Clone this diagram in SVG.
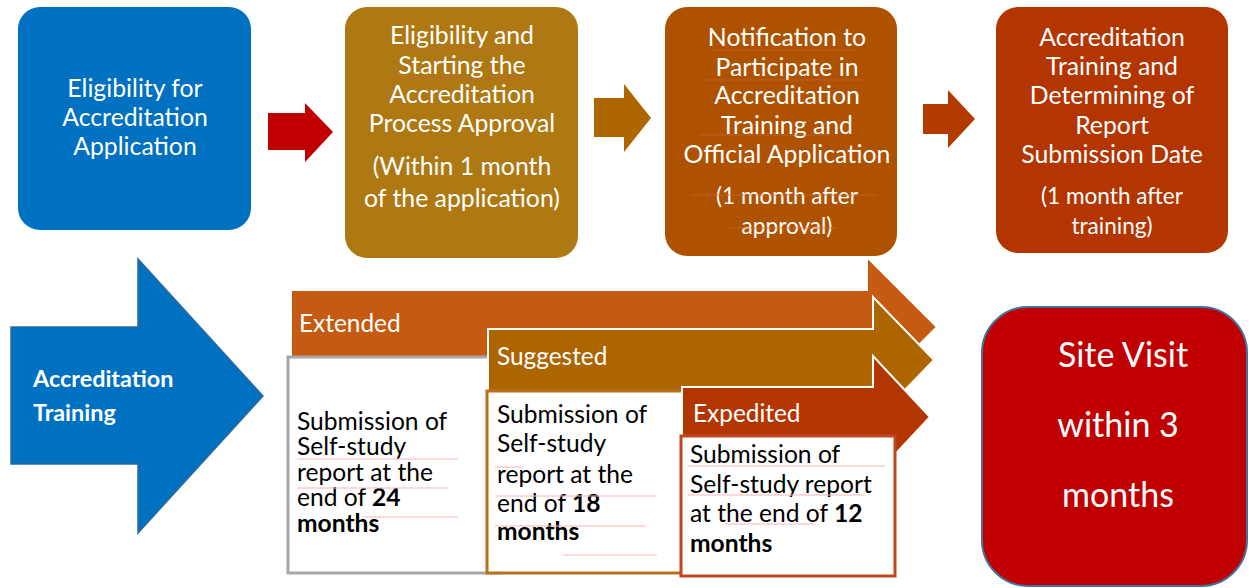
<svg xmlns="http://www.w3.org/2000/svg" width="1249" height="588" viewBox="0 0 1249 588">
  <style>
    text { font-family: Lato, "Open Sans", sans-serif; }
    .wt { fill: #ffffff; font-size: 24.8px; text-anchor: middle; }
    .ws { fill: #ffffff; font-size: 22.6px; text-anchor: middle; }
    .lbl { fill: #ffffff; font-size: 24.4px; }
    .body { fill: #000000; font-size: 24.6px; }
    .b { font-weight: bold; }
    .mark { stroke-width: 1; fill: none; }
    .pink { stroke: #f4b6b6; }
    .tone { stroke: #c8643c; opacity: 0.7; }
    .band { stroke: #ffffff; stroke-width: 2; }
    .sv { fill: #ffffff; font-size: 34px; text-anchor: middle; }
  </style>

  <rect width="1249" height="588" fill="#ffffff"/>

  <!-- timeline tracks: extended / suggested / expedited -->
  <g id="track-extended">
    <polygon class="band" fill="#c55a11" points="291,290 867,290 867,257 937,327 867,397 867,364 291,364"/>
    <rect x="288" y="357" width="210" height="216" fill="#ffffff" stroke="#a6a6a6" stroke-width="3"/>
    <text class="lbl" x="299" y="332">Extended</text>
    <text class="body" x="297" y="430">Submission of</text>
    <text class="body" x="297" y="455">Self-study</text>
    <text class="body" x="297" y="481">report at the</text>
    <text class="body" x="297" y="506">end of <tspan class="b">24</tspan></text>
    <text class="body b" x="297" y="532">months</text>
  </g>

  <g id="track-suggested">
    <polygon class="band" fill="#ad6500" points="488,329 873,329 873,297 934,360 873,423 873,391 488,391"/>
    <rect x="487" y="391" width="210" height="182" fill="#ffffff" stroke="#b8701e" stroke-width="3"/>
    <text class="lbl" x="497" y="365">Suggested</text>
    <text class="body" x="497" y="423">Submission of</text>
    <text class="body" x="497" y="452">Self-study</text>
    <text class="body" x="497" y="483">report at the</text>
    <text class="body" x="497" y="512">end of <tspan class="b">18</tspan></text>
    <text class="body b" x="497" y="540">months</text>
  </g>

  <g id="track-expedited">
    <polygon class="band" fill="#b33600" points="682,387 873,387 873,356 930,417 873,478 873,447 682,447"/>
    <rect x="681" y="436" width="214" height="140" fill="#ffffff" stroke="#c0461e" stroke-width="3"/>
    <text class="lbl" x="693" y="422">Expedited</text>
    <text class="body" x="690" y="463">Submission of</text>
    <text class="body" x="690" y="493">Self-study report</text>
    <text class="body" x="690" y="522">at the end of <tspan class="b">12</tspan></text>
    <text class="body b" x="690" y="552">months</text>
  </g>

  <!-- process steps -->
  <g id="step-eligibility">
    <rect x="18" y="7" width="233" height="223" rx="22" fill="#0070c0"/>
    <text class="wt" x="135" y="97">Eligibility for</text>
    <text class="wt" x="135" y="126">Accreditation</text>
    <text class="wt" x="135" y="155">Application</text>
  </g>

  <g id="step-approval">
    <rect x="345" y="7" width="233" height="251" rx="22" fill="#ae7812"/>
    <text class="wt" x="462" y="44">Eligibility and</text>
    <text class="wt" x="462" y="74">Starting the</text>
    <text class="wt" x="462" y="103">Accreditation</text>
    <text class="wt" x="462" y="132">Process Approval</text>
    <text class="wt" x="462" y="175">(Within 1 month</text>
    <text class="wt" x="462" y="207">of the application)</text>
  </g>

  <g id="step-notification">
    <rect x="665" y="7" width="232" height="249" rx="22" fill="#ae5200"/>
    <text class="wt" x="787" y="46">Notification to</text>
    <text class="wt" x="787" y="76">Participate in</text>
    <text class="wt" x="787" y="104">Accreditation</text>
    <text class="wt" x="787" y="134">Training and</text>
    <text class="wt" x="787" y="163">Official Application</text>
    <text class="ws" x="787" y="204">(1 month after</text>
    <text class="ws" x="787" y="234">approval)</text>
  </g>

  <g id="step-training">
    <rect x="996" y="7" width="232" height="246" rx="22" fill="#b33500"/>
    <text class="wt" x="1112" y="46">Accreditation</text>
    <text class="wt" x="1112" y="75">Training and</text>
    <text class="wt" x="1112" y="104">Determining of</text>
    <text class="wt" x="1112" y="134">Report</text>
    <text class="wt" x="1112" y="163">Submission Date</text>
    <text class="ws" x="1112" y="204">(1 month after</text>
    <text class="ws" x="1112" y="234">training)</text>
  </g>

  <g id="site-visit">
    <rect x="982" y="307" width="265" height="279" rx="46" fill="#c00000" stroke="#41719c" stroke-width="2"/>
    <text class="sv" x="1123" y="367">Site Visit</text>
    <text class="sv" x="1118" y="437">within 3</text>
    <text class="sv" x="1118" y="507">months</text>
  </g>

  <g id="training-arrow">
    <polygon points="11,327 138,327 138,259 263,396 138,533 138,464 11,464" fill="#0070c0" stroke="#2f69a0" stroke-width="1.5"/>
    <text fill="#ffffff" font-size="23.4" font-weight="bold" x="33" y="387">Accreditation</text>
    <text fill="#ffffff" font-size="23.4" font-weight="bold" x="33" y="421">Training</text>
  </g>

  <!-- connectors between steps -->
  <g id="connectors">
    <polygon points="268,113 305,113 305,103 333,132 305,162 305,150 268,150" fill="#c00000"/>
    <polygon points="594,98 624,98 624,84 651,118 624,152 624,137 594,137" fill="#ad6600"/>
    <polygon points="923,104 948,104 948,90 975,119 948,148 948,134 923,134" fill="#b33b00"/>
  </g>

  <!-- proofing underlines carried in the source document -->
  <g id="underlines" class="mark">
    <line class="pink" x1="297" y1="459" x2="458" y2="459"/>
    <line class="pink" x1="297" y1="488" x2="448" y2="488"/>
    <line class="pink" x1="365" y1="517" x2="458" y2="517"/>
    <line class="pink" x1="495" y1="467" x2="523" y2="467"/>
    <line class="pink" x1="495" y1="496" x2="657" y2="496"/>
    <line class="pink" x1="495" y1="526" x2="646" y2="526"/>
    <line class="pink" x1="563" y1="555" x2="657" y2="555"/>
    <line class="pink" x1="688" y1="466" x2="885" y2="466"/>
    <line class="pink" x1="688" y1="495" x2="865" y2="495"/>
    <line class="pink" x1="725" y1="524" x2="815" y2="524"/>
    <line class="tone" x1="393" y1="48" x2="525" y2="48"/>
    <line class="tone" x1="390" y1="78" x2="533" y2="78"/>
    <line class="tone" x1="430" y1="150" x2="497" y2="150"/>
    <line class="tone" x1="710" y1="50" x2="855" y2="50"/>
    <line class="tone" x1="705" y1="80" x2="865" y2="80"/>
    <line class="tone" x1="700" y1="135" x2="830" y2="135"/>
    <line class="tone" x1="692" y1="195" x2="877" y2="195"/>
    <line class="tone" x1="728" y1="228" x2="838" y2="228"/>
  </g>
</svg>
